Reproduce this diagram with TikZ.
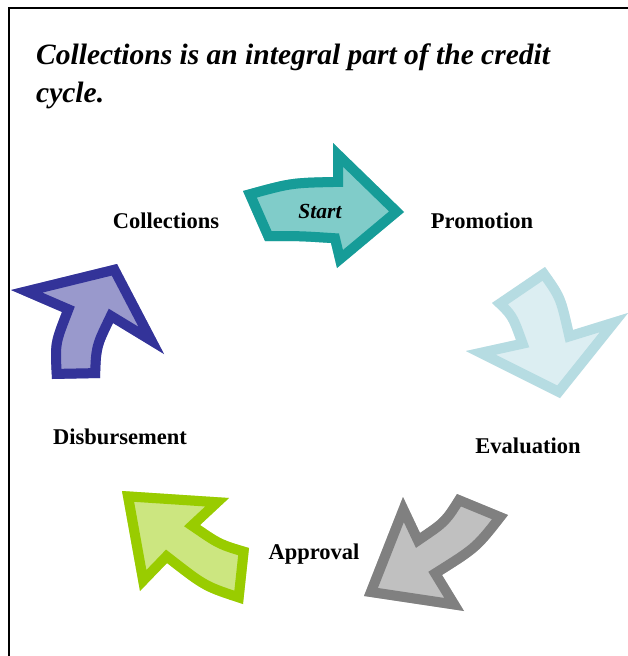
\documentclass[tikz,border=0pt]{standalone}
\usepackage{fontspec}
\setmainfont{Liberation Serif}
\begin{document}
\begin{tikzpicture}[x=1pt,y=-1pt,
  lbl/.style={font=\fontsize{22.5}{26}\selectfont\bfseries, inner sep=0pt},
  ttl/.style={font=\fontsize{29.5}{38}\selectfont\bfseries\itshape, inner sep=0pt, align=left, anchor=north west},
  frame/.style={line width=1.8pt, black}]
\definecolor{tealD}{RGB}{22,156,152}
\definecolor{tealL}{RGB}{128,204,201}
\definecolor{iceD}{RGB}{182,220,226}
\definecolor{iceL}{RGB}{220,238,242}
\definecolor{grayD}{RGB}{128,128,128}
\definecolor{grayL}{RGB}{192,192,192}
\definecolor{greenD}{RGB}{153,204,0}
\definecolor{greenL}{RGB}{204,230,128}
\definecolor{navyD}{RGB}{51,51,153}
\definecolor{navyL}{RGB}{153,153,204}
\useasboundingbox (0,0) rectangle (628,656);
\fill[white] (0,0) rectangle (628,656);
\draw[frame] (9,656) -- (9,8) -- (628,8);
\node[ttl] (title) at (36,44) {Collections is an integral part of the credit\\cycle.};

% arrows: fill light, border drawn inside the outline
\newcommand{\blockarrow}[3]{%
  \path[save path=\tmparrow] #3;
  \fill[#2, use path=\tmparrow];
  \begin{scope}
    \clip[use path=\tmparrow];
    \draw[#1, line width=20pt, line join=miter, use path=\tmparrow];
  \end{scope}}

\blockarrow{tealD}{tealL}{(243,191) .. controls (290,178) .. (333,177) -- (333,143) -- (404,212) -- (337,268) -- (331,243) .. controls (300,241) .. (265,241) -- cycle}
\blockarrow{iceD}{iceL}{(492,303) -- (545,267) .. controls (565,295) .. (573,330) -- (628,313) -- (560,398) -- (466,351) -- (516,340) .. controls (508,318) .. (492,303) -- cycle}
\blockarrow{grayD}{grayL}{(457,494) -- (508,515) .. controls (480,551) .. (442,575) -- (464,611) -- (364,596) -- (403,497) -- (420,533) .. controls (442,518) .. (457,494) -- cycle}
\blockarrow{greenD}{greenL}{(122,491) -- (229,498) -- (200,525) .. controls (222,540) .. (249,548) -- (243,604) .. controls (203,591) .. (167,563) -- (140,591) -- cycle}
\blockarrow{navyD}{navyL}{(11,290) -- (117,264) -- (164,354) -- (113,323) .. controls (101,348) .. (100,378) -- (52,379) .. controls (50,343) .. (62,312) -- cycle}

\node[lbl, font=\fontsize{21.5}{24}\selectfont\bfseries\itshape] (start) at (320,211) {Start};
\node[lbl] (collections) at (166,221) {Collections};
\node[lbl] (promotion) at (482,221) {Promotion};
\node[lbl] (evaluation) at (528,446) {Evaluation};
\node[lbl] (disbursement) at (120,437) {Disbursement};
\node[lbl] (approval) at (314,554) {Approval};
\end{tikzpicture}
\end{document}
